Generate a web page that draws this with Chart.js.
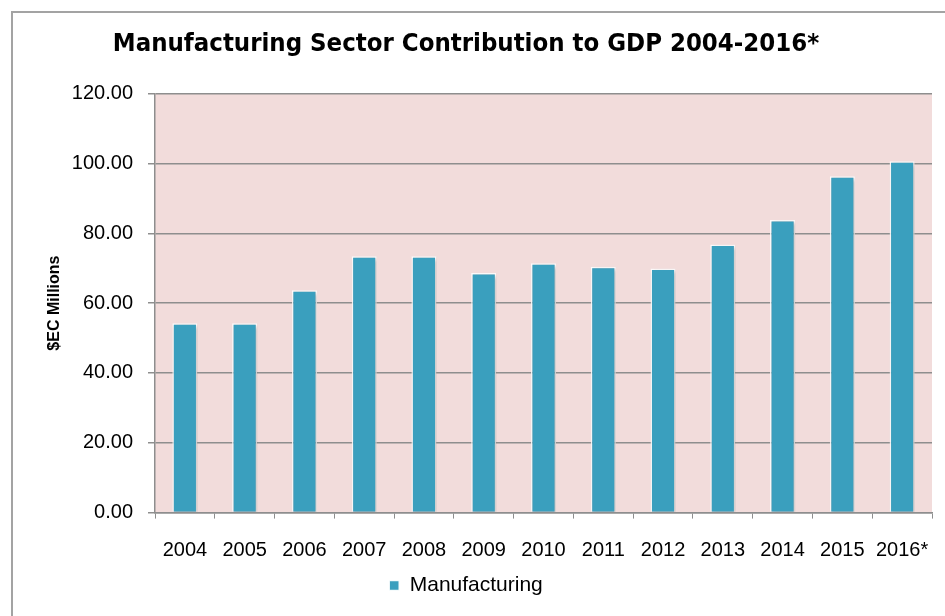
<!DOCTYPE html>
<html>
<head>
<meta charset="utf-8">
<script src="https://cdn.jsdelivr.net/npm/chart.js@4.4.1/dist/chart.umd.min.js"></script>
<style>
  html, body { margin: 0; padding: 0; background: #fff; }
  #wrap { width: 945px; height: 616px; }
</style>
</head>
<body>
<div id="wrap"><canvas id="gdpChart" width="945" height="616"></canvas></div>
<script>
// ── Datos ────────────────────────────────────────────
const years = ['2004', '2005', '2006', '2007', '2008', '2009', '2010',
               '2011', '2012', '2013', '2014', '2015', '2016*'];
const manufacturing = [54.2, 54.2, 63.7, 73.4, 73.4, 68.6, 71.4,
                       70.4, 69.9, 76.8, 83.8, 96.3, 100.6];
const yTicks = [0, 20, 40, 60, 80, 100, 120];

const FONT = "'Liberation Sans', Arial, sans-serif";
const GRID = '#8e8e8e';

// ── Fondo del área de trazado + borde exterior ───────
const plotBg = {
  id: 'plotBg',
  beforeDraw(chart) {
    const { ctx, chartArea: a } = chart;
    ctx.save();
    ctx.fillStyle = '#fff';
    ctx.fillRect(0, 0, chart.width, chart.height);
    ctx.strokeStyle = '#a3a3a3';
    ctx.lineWidth = 2;
    ctx.strokeRect(12, 12, 2000, 2000);
    ctx.fillStyle = '#f2dcdb';
    ctx.fillRect(a.left, a.top, a.right - a.left, a.bottom - a.top);
    ctx.restore();
  },
};

// sombra suave de las barras
const barShadow = {
  id: 'barShadow',
  beforeDatasetsDraw(chart) {
    const ctx = chart.ctx;
    ctx.save();
    ctx.shadowColor = 'rgba(0,0,0,0.22)';
    ctx.shadowBlur = 4;
    ctx.shadowOffsetX = 2;
    ctx.shadowOffsetY = 2;
  },
  afterDatasetsDraw(chart) {
    chart.ctx.restore();
  },
};

new Chart(document.getElementById('gdpChart'), {
  type: 'bar',
  data: {
    labels: years,
    datasets: [{
      label: 'Manufacturing',
      data: manufacturing,
      backgroundColor: '#3a9fbe',
      borderColor: 'rgba(255,255,255,0.9)',
      borderWidth: 1.5,
      categoryPercentage: 1,
      barPercentage: 0.42,
    }],
  },
  options: {
    responsive: false,
    animation: false,
    devicePixelRatio: 1,
    layout: { padding: { left: 0, right: 13, top: 0, bottom: 10 } },
    plugins: {
      title: {
        display: true,
        text: 'Manufacturing Sector Contribution to GDP 2004-2016*',
        color: '#000',
        font: { family: "'DejaVu Sans Condensed', sans-serif", size: 25.5, weight: 'bold' },
        padding: { top: 29, bottom: 34 },
      },
      legend: {
        position: 'bottom',
        labels: {
          color: '#000',
          font: { family: FONT, size: 21 },
          boxWidth: 10,
          boxHeight: 10,
          padding: 10,
        },
      },
      tooltip: { enabled: false },
    },
    scales: {
      x: {
        grid: {
          drawOnChartArea: false,
          drawTicks: true,
          tickLength: 6,
          tickColor: GRID,
          offset: true,
        },
        border: { color: GRID, width: 1.5 },
        ticks: {
          color: '#000',
          font: { family: FONT, size: 20 },
          padding: 20,
          maxRotation: 0,
          autoSkip: false,
        },
        afterFit: s => { s.height = 52.4; s.paddingLeft = 0; s.paddingRight = 0; },
      },
      y: {
        min: 0,
        max: 120,
        afterBuildTicks: s => { s.ticks = yTicks.map(v => ({ value: v })); },
        grid: {
          color: GRID,
          lineWidth: 1.5,
          tickLength: 7,
          tickColor: GRID,
        },
        border: { color: GRID, width: 1.5 },
        ticks: {
          color: '#000',
          font: { family: FONT, size: 20 },
          padding: 15,
          callback: v => Number(v).toFixed(2),
        },
        title: {
          display: true,
          text: '$EC Millions',
          color: '#000',
          font: { family: FONT, size: 16, weight: 'bold' },
          padding: { top: 45, bottom: 0 },
        },
        afterFit: s => { s.width = 155; },
      },
    },
  },
  plugins: [plotBg, barShadow],
});
</script>
</body>
</html>
